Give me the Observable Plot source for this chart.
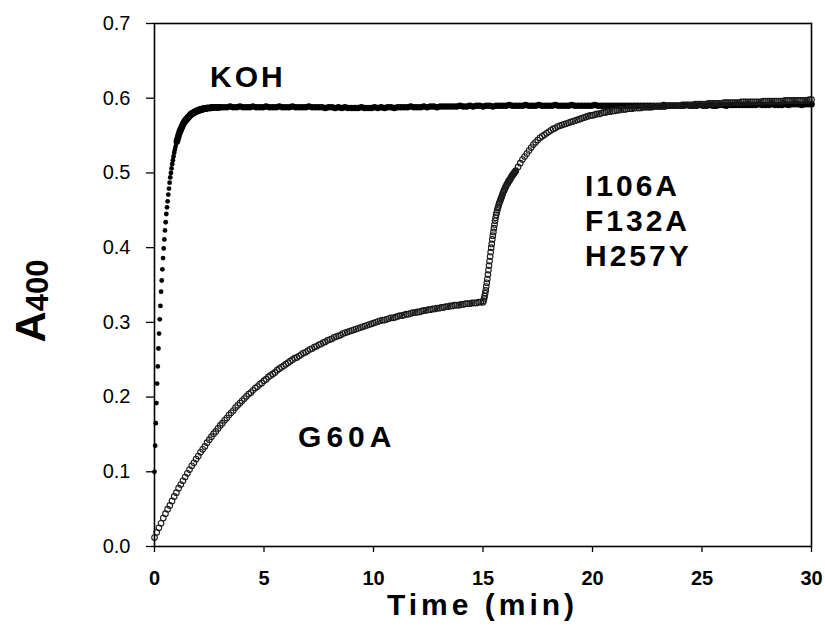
<!DOCTYPE html>
<html>
<head>
<meta charset="utf-8">
<script src="https://cdn.jsdelivr.net/npm/d3@7"></script>
<script src="https://cdn.jsdelivr.net/npm/@observablehq/plot@0.6"></script>
<style>
  html, body { margin: 0; padding: 0; background: #fff; }
  #chart { width: 825px; height: 629px; }
</style>
</head>
<body>
<div id="chart"></div>
<script>
// ---- Data ----
// Axis ticks
const xTicks = [0, 5, 10, 15, 20, 25, 30];
const yTicks = [0.0, 0.1, 0.2, 0.3, 0.4, 0.5, 0.6, 0.7];

// KOH series (filled dots): segment 1 (sampling start 0 min, every 0.03 min)
const kohSeg1Start = 0, kohSeg1Step = 0.03;
const kohSeg1 = [
  0.100, 0.135, 0.165, 0.192, 0.218, 0.241, 0.265, 0.285, 0.304, 0.322,
  0.341, 0.356, 0.371, 0.386, 0.399, 0.411, 0.423, 0.434, 0.445, 0.454,
  0.462, 0.471, 0.479, 0.487, 0.494, 0.500, 0.506, 0.512, 0.517, 0.522,
  0.527, 0.531, 0.535, 0.539, 0.542, 0.545, 0.548, 0.551, 0.554, 0.556,
  0.558, 0.560, 0.562, 0.564, 0.566, 0.567, 0.569, 0.570, 0.571, 0.572,
  0.573, 0.574, 0.575, 0.576, 0.577, 0.578, 0.579, 0.579, 0.580, 0.580,
  0.581, 0.581, 0.582, 0.582, 0.583, 0.583, 0.583, 0.584, 0.584, 0.584,
  0.585, 0.585, 0.585, 0.585, 0.586, 0.586, 0.586, 0.586, 0.586, 0.587,
  0.587, 0.587, 0.587, 0.587, 0.587, 0.587, 0.587, 0.588, 0.588, 0.588,
  0.588, 0.588, 0.588, 0.588, 0.588, 0.588, 0.588, 0.588, 0.588, 0.588,
  0.588
];
// KOH segment 2 (from 3.15 min, every 0.15 min)
const kohSeg2Start = 3.15, kohSeg2Step = 0.15;
const kohSeg2 = [
  0.588, 0.588, 0.589, 0.588, 0.588, 0.589, 0.588, 0.588, 0.588, 0.589,
  0.588, 0.588, 0.588, 0.589, 0.588, 0.588, 0.588, 0.589, 0.588, 0.588,
  0.588, 0.589, 0.588, 0.588, 0.588, 0.588, 0.589, 0.588, 0.588, 0.588,
  0.588, 0.587, 0.588, 0.588, 0.587, 0.588, 0.587, 0.588, 0.587, 0.587,
  0.587, 0.587, 0.588, 0.587, 0.587, 0.587, 0.588, 0.587, 0.588, 0.587,
  0.588, 0.588, 0.587, 0.588, 0.588, 0.588, 0.588, 0.589, 0.588, 0.588,
  0.588, 0.589, 0.588, 0.589, 0.589, 0.588, 0.589, 0.589, 0.589, 0.589,
  0.589, 0.589, 0.590, 0.589, 0.589, 0.590, 0.589, 0.590, 0.590, 0.589,
  0.590, 0.590, 0.589, 0.590, 0.590, 0.590, 0.590, 0.591, 0.590, 0.590,
  0.590, 0.590, 0.591, 0.590, 0.590, 0.590, 0.591, 0.590, 0.590, 0.590,
  0.590, 0.591, 0.590, 0.590, 0.590, 0.590, 0.591, 0.590, 0.590, 0.590,
  0.590, 0.590, 0.590, 0.591, 0.590, 0.590, 0.590, 0.590, 0.590, 0.590,
  0.590, 0.590, 0.590, 0.590, 0.590, 0.590, 0.590, 0.590, 0.590, 0.590,
  0.590, 0.590, 0.590, 0.590, 0.591, 0.590, 0.590, 0.590, 0.590, 0.590,
  0.590, 0.591, 0.590, 0.590, 0.590, 0.591, 0.590, 0.590, 0.591, 0.590,
  0.590, 0.591, 0.591, 0.590, 0.591, 0.591, 0.591, 0.591, 0.591, 0.591,
  0.591, 0.591, 0.591, 0.592, 0.591, 0.591, 0.591, 0.592, 0.591, 0.591,
  0.591, 0.592, 0.591, 0.592, 0.592, 0.592, 0.591, 0.592, 0.592, 0.592
];

// G60A / I106A F132A H257Y series (open circles)
// segment 1: 0 .. 15 min every 0.1 min
const g60Seg1Start = 0, g60Seg1Step = 0.1;
const g60Seg1 = [
  0.012, 0.019, 0.025, 0.031, 0.038, 0.044, 0.050, 0.055, 0.061, 0.067,
  0.072, 0.078, 0.083, 0.088, 0.093, 0.098, 0.103, 0.108, 0.112, 0.117,
  0.121, 0.126, 0.130, 0.134, 0.139, 0.143, 0.147, 0.151, 0.154, 0.158,
  0.162, 0.165, 0.169, 0.172, 0.176, 0.179, 0.182, 0.186, 0.189, 0.192,
  0.195, 0.198, 0.201, 0.204, 0.206, 0.209, 0.212, 0.214, 0.217, 0.219,
  0.222, 0.224, 0.227, 0.229, 0.231, 0.233, 0.236, 0.238, 0.240, 0.242,
  0.244, 0.246, 0.248, 0.250, 0.252, 0.253, 0.255, 0.257, 0.259, 0.260,
  0.262, 0.264, 0.265, 0.267, 0.268, 0.270, 0.271, 0.273, 0.274, 0.276,
  0.277, 0.278, 0.280, 0.281, 0.282, 0.283, 0.285, 0.286, 0.287, 0.288,
  0.289, 0.290, 0.291, 0.292, 0.293, 0.294, 0.295, 0.296, 0.297, 0.298,
  0.299, 0.300, 0.301, 0.302, 0.303, 0.303, 0.304, 0.305, 0.306, 0.306,
  0.307, 0.308, 0.309, 0.309, 0.310, 0.311, 0.311, 0.312, 0.313, 0.313,
  0.314, 0.314, 0.315, 0.316, 0.316, 0.317, 0.317, 0.318, 0.318, 0.319,
  0.319, 0.320, 0.320, 0.321, 0.321, 0.322, 0.322, 0.323, 0.323, 0.323,
  0.324, 0.324, 0.325, 0.325, 0.325, 0.326, 0.326, 0.326, 0.327, 0.327,
  0.327
];
// segment 2: the jump, 15.025 .. 16.5 min every 0.025 min
const g60Seg2Start = 15.025, g60Seg2Step = 0.025;
const g60Seg2 = [
  0.329, 0.332, 0.335, 0.339, 0.343, 0.348, 0.353, 0.358, 0.364, 0.370,
  0.376, 0.382, 0.388, 0.394, 0.400, 0.405, 0.411, 0.416, 0.421, 0.426,
  0.431, 0.436, 0.440, 0.444, 0.447, 0.450, 0.453, 0.455, 0.458, 0.460,
  0.462, 0.464, 0.466, 0.468, 0.470, 0.472, 0.474, 0.476, 0.477, 0.479,
  0.481, 0.482, 0.484, 0.485, 0.486, 0.488, 0.489, 0.490, 0.491, 0.492,
  0.494, 0.495, 0.496, 0.497, 0.498, 0.499, 0.500, 0.501, 0.502, 0.503
];
// segment 3: 16.6 .. 30 min every 0.1 min
const g60Seg3Start = 16.6, g60Seg3Step = 0.1;
const g60Seg3 = [
  0.508, 0.513, 0.518, 0.522, 0.526,
  0.530, 0.534, 0.538, 0.541, 0.544, 0.547, 0.549, 0.551, 0.553, 0.555,
  0.557, 0.559, 0.560, 0.562, 0.563, 0.564, 0.565, 0.566, 0.567, 0.568,
  0.569, 0.570, 0.571, 0.572, 0.573, 0.574, 0.575, 0.576, 0.577, 0.577,
  0.578, 0.579, 0.579, 0.580, 0.581, 0.581, 0.582, 0.582, 0.583, 0.583,
  0.584, 0.584, 0.585, 0.585, 0.585, 0.586, 0.586, 0.586, 0.587, 0.587,
  0.587, 0.587, 0.588, 0.588, 0.588, 0.588, 0.588, 0.589, 0.589, 0.589,
  0.589, 0.589, 0.589, 0.590, 0.590, 0.590, 0.590, 0.590, 0.590, 0.590,
  0.591, 0.591, 0.591, 0.591, 0.591, 0.591, 0.592, 0.592, 0.592, 0.592,
  0.592, 0.592, 0.593, 0.593, 0.593, 0.593, 0.593, 0.593, 0.593, 0.594,
  0.594, 0.594, 0.594, 0.594, 0.594, 0.594, 0.594, 0.595, 0.595, 0.595,
  0.595, 0.595, 0.595, 0.595, 0.595, 0.595, 0.595, 0.596, 0.596, 0.596,
  0.596, 0.596, 0.596, 0.596, 0.596, 0.596, 0.596, 0.597, 0.597, 0.597,
  0.597, 0.597, 0.597, 0.597, 0.597, 0.597, 0.597, 0.597, 0.598, 0.598
];

// Text
const xTitle = "Time (min)";
const yTitleMain = "A", yTitleSub = "400";
const labelKOH = "KOH";
const labelG60A = "G60A";
const labelMutant = ["I106A", "F132A", "H257Y"];

// ---- Build tables ----
function seg(start, step, values, series) {
  return values.map((v, i) => ({t: +(start + i * step).toFixed(4), a: v, series}));
}
const kohData = [...seg(kohSeg1Start, kohSeg1Step, kohSeg1, "KOH"), ...seg(kohSeg2Start, kohSeg2Step, kohSeg2, "KOH")];
const g60Data = [...seg(g60Seg1Start, g60Seg1Step, g60Seg1, "G60A"), ...seg(g60Seg2Start, g60Seg2Step, g60Seg2, "G60A"), ...seg(g60Seg3Start, g60Seg3Step, g60Seg3, "G60A")];

const FONT = "'Liberation Sans', Arial, Helvetica, sans-serif";

const chart = Plot.plot({
  width: 825,
  height: 629,
  marginLeft: 154,
  marginRight: 14,
  marginTop: 23,
  marginBottom: 83,
  style: {fontFamily: FONT, background: "#fff", color: "#000", overflow: "visible"},
  x: {domain: [0, 30]},
  y: {domain: [0, 0.7]},
  marks: [
    Plot.dot(kohData, {filter: d => d.t < 1, x: "t", y: "a", r: 2.4, fill: "#000", stroke: "none"}),
    Plot.dot(kohData, {filter: d => d.t >= 1, x: "t", y: "a", r: 3.3, fill: "#000", stroke: "none"}),
    Plot.dot(g60Data, {x: "t", y: "a", r: 2.8, fill: "none", stroke: "#1a1a1a", strokeWidth: 1.1}),
    Plot.frame({stroke: "#000", strokeWidth: 1.6}),
    Plot.axisY({ticks: yTicks, tickSize: 8, tickPadding: 16, tickFormat: d => d.toFixed(1),
      fontSize: 20, label: null, strokeWidth: 1.3}),
    Plot.axisX({ticks: xTicks, tickSize: 6, tickPadding: 18, tickFormat: d => String(d),
      fontSize: 20, fontWeight: "bold", label: null, strokeWidth: 1.3})
  ]
});

document.getElementById("chart").appendChild(chart);

// ---- Annotations placed through the plot's scales ----
const sx = chart.scale("x"), sy = chart.scale("y");
const svg = d3.select(chart);
const g = svg.append("g").attr("font-family", FONT).attr("fill", "#000").attr("text-anchor", "start");

// inner labels (data coordinates of the text start / baseline)
const annotKOH = {t: 2.56, a: 0.614};
const annotG60 = {t: 6.58, a: 0.132};
const annotMut = {t: 19.68, a: 0.468, lineStep: 35};

g.append("text").attr("x", sx.apply(annotKOH.t)).attr("y", sy.apply(annotKOH.a))
  .attr("font-size", 30).attr("font-weight", "bold").attr("letter-spacing", 3).text(labelKOH);
g.append("text").attr("x", sx.apply(annotG60.t)).attr("y", sy.apply(annotG60.a))
  .attr("font-size", 30).attr("font-weight", "bold").attr("letter-spacing", 5).text(labelG60A);
labelMutant.forEach((s, i) => {
  g.append("text").attr("x", sx.apply(annotMut.t)).attr("y", sy.apply(annotMut.a) + i * annotMut.lineStep)
    .attr("font-size", 30).attr("font-weight", "bold").attr("letter-spacing", 3).text(s);
});

// axis titles
const [x0, x1] = sx.range, [y0, y1] = sy.range;
g.append("text").attr("x", (x0 + x1) / 2).attr("y", y0 + 69).attr("text-anchor", "middle")
  .attr("font-size", 30).attr("font-weight", "bold").attr("letter-spacing", 4).text(xTitle);

const yt = g.append("text")
  .attr("transform", `translate(45, 301) rotate(-90)`)
  .attr("text-anchor", "middle").attr("font-weight", "bold");
yt.append("tspan").attr("font-size", 43).text(yTitleMain);
yt.append("tspan").attr("font-size", 31).attr("dy", 3).text(yTitleSub);
</script>
</body>
</html>
